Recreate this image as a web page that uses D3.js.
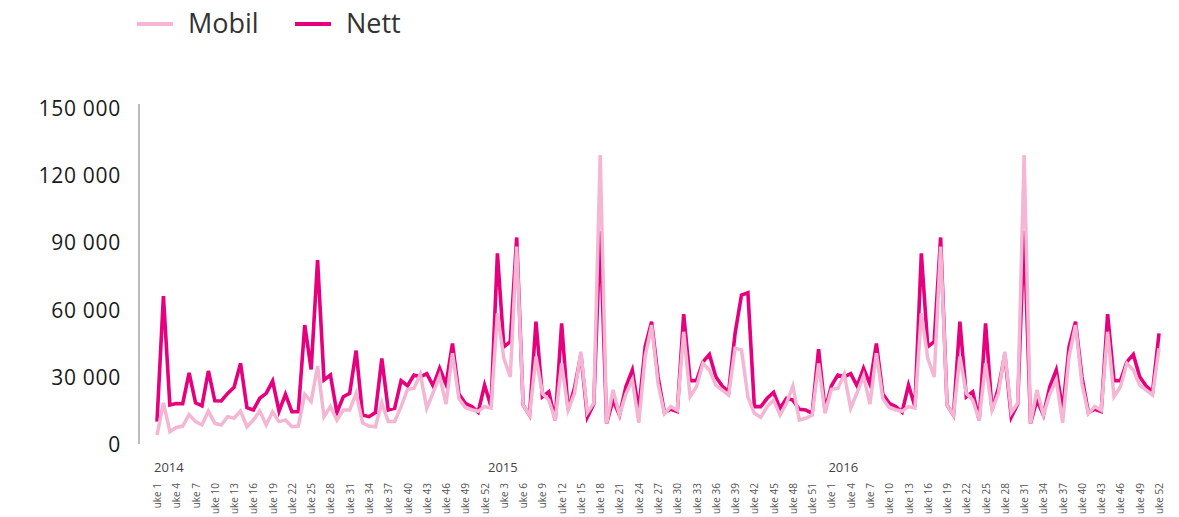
<!DOCTYPE html>
<html>
<head>
<meta charset="utf-8">
<script src="https://cdn.jsdelivr.net/npm/d3@7"></script>
<style>
  html, body { margin: 0; padding: 0; background: #fff; }
  svg { display: block; }
</style>
</head>
<body>
<svg id="chart"></svg>
<script>
// Weekly traffic, Mobil vs Nett, 2014-2016

const years = ['2014', '2015', '2016'];
const weeksPerYear = [52, 53, 52];
const weekLabelStep = 3;

const nett2014 = [10000, 66000, 17400, 18100, 18000, 31800, 18400, 17000, 32600, 19300,
    19200, 22600, 25300, 36000, 16200, 15200, 20400, 22600, 28100, 14700,
    22200, 14400, 14400, 53100, 33300, 82100, 28600, 30800, 14000, 21100,
    22600, 41700, 12900, 12200, 14000, 38200, 15200, 15900, 28300, 26000,
    30800, 30000, 31400, 25900, 33800, 26700, 44900, 22300, 18200, 16700,
    14200, 26300];
const nett2015 = [16700, 85100, 43400, 45700, 92200, 17400, 12900, 54600, 21100, 23300,
    10700, 53900, 15200, 25000, 40000, 12000, 17800, 95000, 9200, 19600,
    12900, 25600, 33000, 15000, 43400, 54600, 30000, 14000, 15500, 14500,
    58000, 28300, 28300, 36700, 40000, 30000, 25900, 23300, 49400, 66500,
    67500, 16700, 16700, 20400, 23100, 15900, 20400, 19600, 15500, 15200,
    13700, 42300, 15200];
const nett2016 = [26000, 30800, 30000, 31400, 25900, 33800, 26700, 44900, 22300, 18200,
    16700, 14200, 26300, 16700, 85100, 43400, 45700, 92200, 17400, 12900,
    54600, 21100, 23300, 10700, 53900, 15200, 25000, 40000, 12000, 17800,
    95000, 9200, 19600, 12900, 25600, 33000, 15000, 43400, 54600, 30000,
    14000, 15500, 14500, 58000, 28300, 28300, 36700, 40000, 30000, 25900,
    23300, 49400];

const mobil2014 = [4000, 18400, 5500, 7400, 8000, 13200, 10000, 8500, 14700, 9200,
    8500, 12200, 11500, 14700, 7700, 10700, 14700, 8500, 14400, 10000,
    10700, 7700, 8000, 22200, 18900, 34800, 12200, 16700, 10700, 15200,
    15200, 22600, 9500, 8000, 7700, 18400, 10000, 10000, 16700, 24400,
    24800, 31200, 15900, 23000, 30400, 17800, 40500, 20300, 16300, 15300,
    14600, 16700];
const mobil2015 = [16000, 58300, 38200, 30000, 88100, 17400, 12900, 39000, 22600, 19600,
    10700, 36000, 15200, 22600, 41200, 14000, 18200, 129000, 9200, 24100,
    12900, 22300, 28600, 9500, 39000, 53100, 27000, 13500, 16700, 15000,
    50100, 21100, 25600, 36000, 33000, 26300, 24100, 21900, 42700, 42000,
    21000, 13700, 11900, 16700, 19600, 12900, 18200, 25900, 10700, 11500,
    12900, 36000, 13700];
const mobil2016 = [24400, 24800, 31200, 15900, 23000, 30400, 17800, 40500, 20300, 16300,
    15300, 14600, 16700, 16000, 58300, 38200, 30000, 88100, 17400, 12900,
    39000, 22600, 19600, 10700, 36000, 15200, 22600, 41200, 14000, 18200,
    129000, 9200, 24100, 12900, 22300, 28600, 9500, 39000, 53100, 27000,
    13500, 16700, 15000, 50100, 21100, 25600, 36000, 33000, 26300, 24100,
    21900, 42700];

const yTicks = [0, 30000, 60000, 90000, 120000, 150000];

const seriesNames = ['Mobil', 'Nett'];
const seriesColors = { Mobil: '#f4b6d3', Nett: '#e6007e' };

// Build category list (year + week) from the arrays above
const categories = [];
years.forEach((year, yi) => {
    for (let w = 1; w <= weeksPerYear[yi]; w++) {
        categories.push({ key: `${year}-${w}`, year: year, week: w, first: w === 1 });
    }
});

const nettValues = nett2014.concat(nett2015, nett2016);
const mobilValues = mobil2014.concat(mobil2015, mobil2016);

const width = 1179;
const height = 517;

const svg = d3.select('#chart')
    .attr('width', width)
    .attr('height', height);

const x = d3.scalePoint()
    .domain(categories.map(d => d.key))
    .range([157, 1159]);

const y = d3.scaleLinear()
    .domain([0, 150000])
    .range([444, 108]);

const fmt = d3.formatLocale({ decimal: ',', thousands: ' ', grouping: [3], currency: ['', ''] }).format(',d');

// Y axis
const yAxis = d3.axisLeft(y)
    .tickValues(yTicks)
    .tickSize(0)
    .tickPadding(0)
    .tickFormat(fmt);

const yg = svg.append('g')
    .attr('transform', 'translate(121,0)')
    .call(yAxis);
yg.select('.domain').remove();
yg.selectAll('text')
    .attr('fill', '#1a1a1a')
    .attr('font-family', '"Open Sans", sans-serif')
    .attr('font-size', '21px')
    .attr('letter-spacing', '0.7px')
    .attr('dy', '0.36em');

svg.append('line')
    .attr('x1', 139).attr('x2', 139)
    .attr('y1', 104).attr('y2', 444)
    .attr('stroke', '#a6a6a6')
    .attr('stroke-width', 1.5);

// X axis: week labels every third week, year labels at each year start
const xAxis = d3.axisBottom(x)
    .tickValues(categories.filter((d, i) => i % weekLabelStep === 0).map(d => d.key))
    .tickSize(0)
    .tickFormat(k => 'uke ' + k.split('-')[1]);

const xg = svg.append('g')
    .attr('transform', 'translate(0,483)')
    .call(xAxis);
xg.select('.domain').remove();
xg.selectAll('text')
    .attr('fill', '#555')
    .attr('font-family', '"Open Sans", sans-serif')
    .attr('font-size', '10px')
    .attr('text-anchor', 'end')
    .attr('dy', '0.35em')
    .attr('y', 0)
    .attr('x', 0)
    .attr('transform', 'rotate(-90)');

svg.selectAll('.year-label')
    .data(categories.filter(d => d.first))
    .enter()
    .append('text')
    .attr('class', 'year-label')
    .attr('x', d => x(d.key) - 3)
    .attr('y', 472)
    .attr('fill', '#444')
    .attr('font-family', '"Open Sans", sans-serif')
    .attr('font-size', '13px')
    .text(d => d.year);

// Lines (Nett underneath, Mobil on top)
const line = d3.line()
    .x((d, i) => x(categories[i].key))
    .y(d => y(d));

svg.append('path')
    .datum(nettValues)
    .attr('fill', 'none')
    .attr('stroke', seriesColors.Nett)
    .attr('stroke-width', 3.6)
    .attr('d', line);

svg.append('path')
    .datum(mobilValues)
    .attr('fill', 'none')
    .attr('stroke', seriesColors.Mobil)
    .attr('stroke-width', 3.5)
    .attr('d', line);

// Legend
const legendX = [137, 295];
const legend = svg.selectAll('.legend-item')
    .data(seriesNames)
    .enter()
    .append('g')
    .attr('class', 'legend-item')
    .attr('transform', (d, i) => `translate(${legendX[i]}, 24)`);

legend.append('line')
    .attr('x1', 0).attr('x2', 36)
    .attr('y1', 0).attr('y2', 0)
    .attr('stroke', d => seriesColors[d])
    .attr('stroke-width', 4);

legend.append('text')
    .attr('x', 51)
    .attr('y', 9)
    .attr('fill', '#333')
    .attr('font-family', '"Open Sans", sans-serif')
    .attr('font-size', '27px')
    .text(d => d);
</script>
</body>
</html>
